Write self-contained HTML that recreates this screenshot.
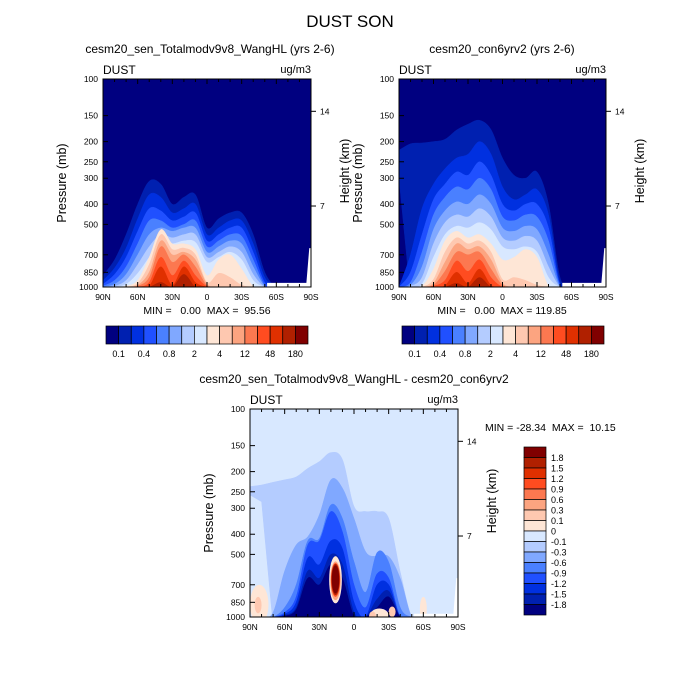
<!DOCTYPE html>
<html><head><meta charset="utf-8">
<style>
html,body{margin:0;padding:0;background:#fff;}
svg{display:block;font-family:"Liberation Sans",Arial,sans-serif;}
.pre{white-space:pre;}
</style></head>
<body>
<svg id="chart" width="700" height="700" viewBox="0 0 700 700" xmlns="http://www.w3.org/2000/svg">
<rect width="700" height="700" fill="#fff"/>
<text x="350" y="27" font-size="17" text-anchor="middle">DUST SON</text>
</svg>
<script>
// ---------- data ----------
const colors16 = ["#000080","#0020b0","#0030e0","#2050ff","#4a80ff","#80a8ff","#b4ccff","#d8e8ff","#fee6d6","#fec8b0","#fca480","#fc7850","#ff4c20","#e03000","#b02000","#800000"];
const lats = [90,80,70,60,50,40,30,20,10,0,-10,-20,-30,-40,-50,-60,-70,-80,-90];
const pressureTicks = [100,150,200,250,300,400,500,700,850,1000];
const latTicks = [90,60,30,0,-30,-60,-90];
const latTickLabels = ["90N","60N","30N","0","30S","60S","90S"];
const heightTicks = [143,408];
const heightTickLabels = ["14","7"];
const absBarLabels = ["0.1","0.4","0.8","2","4","12","48","180"];
const diffBarLabels = ["1.8","1.5","1.2","0.9","0.6","0.3","0.1","0","-0.1","-0.3","-0.6","-0.9","-1.2","-1.5","-1.8"];
const F = 1000;
// top-left panel: top pressure of each contour level per latitude
const tlLevelTops = [
 [880,740,560,400,310,320,400,370,360,520,470,440,440,560,850,F,F,F,F],
 [930,810,650,470,360,370,440,420,400,560,520,480,480,620,900,F,F,F,F],
 [970,870,720,540,420,430,480,460,440,600,560,520,520,680,950,F,F,F,F],
 [990,930,800,620,480,480,520,500,480,640,600,560,570,740,980,F,F,F,F],
 [F,970,870,700,560,520,540,520,520,680,640,600,620,800,990,F,F,F,F],
 [F,990,930,780,640,560,580,560,560,720,680,640,680,870,F,F,F,F,F],
 [F,F,970,860,720,600,620,600,610,760,720,680,740,930,F,F,F,F,F],
 [F,F,990,930,720,530,620,620,660,880,740,700,820,990,F,F,F,F,F],
 [F,F,F,960,780,560,660,650,700,950,860,900,980,F,F,F,F,F,F],
 [F,F,F,980,850,600,700,680,740,970,F,F,F,F,F,F,F,F,F],
 [F,F,F,990,900,640,760,700,800,985,F,F,F,F,F,F,F,F,F],
 [F,F,F,F,950,720,880,750,880,995,F,F,F,F,F,F,F,F,F],
 [F,F,F,F,990,800,980,800,950,F,F,F,F,F,F,F,F,F,F],
 [F,F,F,F,F,950,F,870,F,F,F,F,F,F,F,F,F,F,F]
];
// top-right panel
const trLevelTops = [
 [220,205,203,200,195,176,165,158,175,240,290,300,280,400,900,F,F,F,F],
 [F,700,420,320,270,240,230,200,230,330,380,360,340,450,960,F,F,F,F],
 [F,850,560,380,320,280,290,250,290,400,430,400,400,520,980,F,F,F,F],
 [F,950,680,450,370,330,340,300,340,460,480,450,460,600,990,F,F,F,F],
 [F,980,800,530,430,390,400,360,400,520,540,510,530,700,F,F,F,F,F],
 [F,990,900,620,490,450,460,420,460,580,600,570,600,800,F,F,F,F,F],
 [F,F,970,720,560,510,520,490,530,640,660,640,680,900,F,F,F,F,F],
 [F,F,990,820,600,540,580,560,620,740,720,660,720,990,F,F,F,F,F],
 [F,F,F,920,680,580,620,600,680,920,900,930,980,F,F,F,F,F,F],
 [F,F,F,960,760,620,660,640,740,960,F,F,F,F,F,F,F,F,F],
 [F,F,F,980,840,680,700,680,820,980,F,F,F,F,F,F,F,F,F],
 [F,F,F,990,930,750,840,740,900,F,F,F,F,F,F,F,F,F,F],
 [F,F,F,F,985,850,960,820,980,F,F,F,F,F,F,F,F,F,F],
 [F,F,F,F,F,960,F,900,F,F,F,F,F,F,F,F,F,F,F]
];
const trLevel1Bottom = [300,F,F,F,F,F,F,F,F,F,F,F,F,F,F,F,F,F,F];
// difference panel: negative levels (N1 = -0.1 ... N7 = < -1.8)
const diffNegTops = [
 [236,232,225,219,212,193,179,162,175,294,311,311,336,606,F,F,F,F,F],
 [F,F,950,600,450,411,323,219,240,336,485,512,512,652,F,F,F,F,F],
 [F,F,F,900,700,430,420,289,336,543,760,490,545,900,F,F,F,F,F],
 [F,F,F,950,800,450,430,311,390,700,900,620,650,F,F,F,F,F,F],
 [F,F,F,970,850,520,560,430,470,850,F,700,700,F,F,F,F,F,F],
 [F,F,F,980,900,600,650,500,560,950,F,820,750,F,F,F,F,F,F],
 [F,F,F,990,920,650,700,560,650,990,F,900,800,F,F,F,F,F,F]
];
const diffN1Bottom = [259,279,F,F,F,F,F,F,F,F,F,F,F,F,F,F,F,F,F];
// positive difference blobs
const blobLat = [82,83,-60,-22,-16,-33,16,16,16,16,16];
const blobHalfLat = [8,3,3,8,3,3,5.5,4.5,4,3.6,3.2];
const blobPTop = [700,800,800,910,940,890,510,540,550,555,565];
const blobPBot = [1080,960,1050,1060,1040,1000,860,830,800,785,770];
const blobLevel = [8,9,8,8,9,9,8,10,12,14,15];

// ---------- drawing ----------
const NS = "http://www.w3.org/2000/svg";
const svg = document.getElementById("chart");
function mk(tag, attrs, parent, text){
  const e = document.createElementNS(NS, tag);
  for (const k in attrs) e.setAttribute(k, attrs[k]);
  if (text !== undefined) e.textContent = text;
  (parent || svg).appendChild(e);
  return e;
}
function makeAxes(x0, y0, w, h){
  return {
    x: lat => x0 + (90 - lat) / 180 * w,
    y: p => y0 + h * Math.log10(p / 100)
  };
}
function smoothThrough(pts){
  let d = "M" + pts[0][0].toFixed(1) + "," + pts[0][1].toFixed(1);
  for (let i = 0; i < pts.length - 1; i++) {
    const p0 = pts[Math.max(0, i - 1)], p1 = pts[i], p2 = pts[i + 1], p3 = pts[Math.min(pts.length - 1, i + 2)];
    const c1x = p1[0] + (p2[0] - p0[0]) / 6, c1y = p1[1] + (p2[1] - p0[1]) / 6;
    const c2x = p2[0] - (p3[0] - p1[0]) / 6, c2y = p2[1] - (p3[1] - p1[1]) / 6;
    d += "C" + c1x.toFixed(1) + "," + c1y.toFixed(1) + " " + c2x.toFixed(1) + "," + c2y.toFixed(1) + " " + p2[0].toFixed(1) + "," + p2[1].toFixed(1);
  }
  return d;
}
function levelPath(ax, tops, bots){
  const pts = lats.map((lat, i) => [ax.x(lat), ax.y(tops[i])]);
  let d = smoothThrough(pts);
  for (let i = lats.length - 1; i >= 0; i--) {
    const b = bots ? bots[i] : 1000;
    d += "L" + ax.x(lats[i]).toFixed(1) + "," + (b >= 1000 ? ax.y(1100) : ax.y(b)).toFixed(1);
  }
  return d + "Z";
}
let clipCount = 0;
function panel(cfg){
  const {x0, y0, w, h} = cfg;
  const ax = makeAxes(x0, y0, w, h);
  const g = mk("g", {}); 
  
  
  const cid = "clip" + (clipCount++);
  const cp = mk("clipPath", {id: cid}, g);
  mk("rect", {x: x0, y: y0, width: w, height: h}, cp);
  const plot = mk("g", {"clip-path": "url(#" + cid + ")"}, g);
  const bg = mk("rect", {x: x0, y: y0, width: w, height: h, fill: cfg.bg}, plot);
  
  
  cfg.levels.forEach((tops, k) => {
    const bots = (k === 0 && cfg.firstBottom) ? cfg.firstBottom : null;
    const el = mk("path", {d: levelPath(ax, tops, bots), fill: cfg.colorOf(k), stroke: cfg.colorOf(k), "stroke-width": 0.5, "stroke-linejoin": "round"}, plot);
    
    
  });
  if (cfg.blobs) {
    blobLat.forEach((lat, i) => {
      const ya = ax.y(blobPTop[i]), yb = ax.y(blobPBot[i]);
      const el = mk("ellipse", {cx: ax.x(lat), cy: (ya + yb) / 2, rx: blobHalfLat[i] / 180 * w, ry: (yb - ya) / 2, fill: colors16[blobLevel[i]]}, plot);
      
      
    });
  }
  const mask = mk("path", {d: "M" + ax.x(-52) + "," + (y0 + h + 2) + "L" + ax.x(-52) + "," + ax.y(cfg.maskP) + "L" + ax.x(-86) + "," + ax.y(cfg.maskP) +
    "L" + ax.x(-87) + "," + ax.y(820) + "L" + ax.x(-88.5) + "," + ax.y(650) + "L" + (x0 + w) + "," + ax.y(650) + "L" + (x0 + w) + "," + (y0 + h + 2) + "Z", fill: "#fff"}, plot);
  
  
  const fr = mk("rect", {x: x0, y: y0, width: w, height: h, fill: "none", stroke: "#000", "stroke-width": 1}, g);
  
  
  for (let lat = 90; lat >= -90; lat -= 10) {
    const len = (lat % 30 === 0) ? 5 : 3;
    mk("line", {x1: ax.x(lat), x2: ax.x(lat), y1: y0 + h, y2: y0 + h - len, stroke: "#000", "stroke-width": 1}, g);
    mk("line", {x1: ax.x(lat), x2: ax.x(lat), y1: y0, y2: y0 + len, stroke: "#000", "stroke-width": 1}, g);
  }
  latTicks.forEach((lat, i) => {
    const t = mk("text", {x: ax.x(lat), y: y0 + h + 13, "font-size": 8.5, "text-anchor": "middle"}, g, latTickLabels[i]);
    
    
  });
  pressureTicks.forEach(p => {
    mk("line", {x1: x0, x2: x0 + 5, y1: ax.y(p), y2: ax.y(p), stroke: "#000", "stroke-width": 1}, g);
    const t = mk("text", {x: x0 - 5, y: ax.y(p) + 3, "font-size": 8.5, "text-anchor": "end"}, g, String(p));
    
    
  });
  heightTicks.forEach((p, i) => {
    mk("line", {x1: x0 + w, x2: x0 + w + 5, y1: ax.y(p), y2: ax.y(p), stroke: "#000", "stroke-width": 1}, g);
    const t = mk("text", {x: x0 + w + 9, y: ax.y(p) + 3, "font-size": 8.5}, g, heightTickLabels[i]);
    
    
  });
  const lt = mk("text", {x: x0, y: y0 - 5, "font-size": 12}, g, "DUST");
  
  
  const rt = mk("text", {x: x0 + w, y: y0 - 6, "font-size": 11, "text-anchor": "end"}, g, "ug/m3");
  
  
  const st = mk("text", {x: cfg.titleX, y: y0 - 26, "font-size": 12, "text-anchor": "middle"}, g, cfg.title);
  
  
  const yl = mk("text", {x: 0, y: 0, "font-size": 12.5, "text-anchor": "middle", transform: "translate(" + (x0 - 37) + "," + (y0 + h / 2) + ") rotate(-90)"}, g, "Pressure (mb)");
  
  
  const hl = mk("text", {x: 0, y: 0, "font-size": 12.5, "text-anchor": "middle", transform: "translate(" + (x0 + w + 38) + "," + (y0 + h / 2 - 12) + ") rotate(-90)"}, g, "Height (km)");
  
  
  return g;
}
function hbar(x0, y0, w, h, name){
  const g = mk("g", {});
  
  
  const bw = w / 16;
  colors16.forEach((c, i) => {
    const r = mk("rect", {x: x0 + i * bw, y: y0, width: bw, height: h, fill: c, stroke: "#000", "stroke-width": 0.7}, g);
    
    
  });
  absBarLabels.forEach((lab, i) => {
    const t = mk("text", {x: x0 + (2 * i + 1) * bw, y: y0 + h + 13, "font-size": 9, "text-anchor": "middle"}, g, lab);
    
    
  });
}

panel({name: "panel-sen", x0: 103, y0: 79, w: 208, h: 208, bg: colors16[0], levels: tlLevelTops, colorOf: k => colors16[k + 1], maskP: 955, titleX: 210, title: "cesm20_sen_Totalmodv9v8_WangHL (yrs 2-6)"});
panel({name: "panel-con", x0: 399, y0: 79, w: 207, h: 208, bg: colors16[0], levels: trLevelTops, firstBottom: trLevel1Bottom, colorOf: k => colors16[k + 1], maskP: 955, titleX: 502, title: "cesm20_con6yrv2 (yrs 2-6)"});
panel({name: "panel-diff", x0: 250, y0: 409, w: 208, h: 208, bg: colors16[7], levels: diffNegTops, firstBottom: diffN1Bottom, colorOf: k => colors16[6 - k], blobs: true, maskP: 965, titleX: 354, title: "cesm20_sen_Totalmodv9v8_WangHL - cesm20_con6yrv2"});

const m1 = mk("text", {x: 207, y: 314, "font-size": 10.5, "text-anchor": "middle", "class": "pre"}, svg, "MIN =   0.00  MAX =  95.56");


const m2 = mk("text", {x: 502, y: 314, "font-size": 10.5, "text-anchor": "middle", "class": "pre"}, svg, "MIN =   0.00  MAX = 119.85");


const m3 = mk("text", {x: 485, y: 431, "font-size": 10.5, "class": "pre"}, svg, "MIN = -28.34  MAX =  10.15");



hbar(106, 326, 202, 18, "colorbar-sen");
hbar(402, 326, 202, 18, "colorbar-con");

const vg = mk("g", {});


const vbh = 168 / 16;
for (let i = 0; i < 16; i++) {
  const r = mk("rect", {x: 524, y: 447 + i * vbh, width: 22, height: vbh, fill: colors16[15 - i], stroke: "#000", "stroke-width": 0.7}, vg);
  
  
}
diffBarLabels.forEach((lab, i) => {
  const t = mk("text", {x: 551, y: 447 + (i + 1) * vbh + 3.5, "font-size": 9}, vg, lab);
  
  
});
</script>
</body></html>
